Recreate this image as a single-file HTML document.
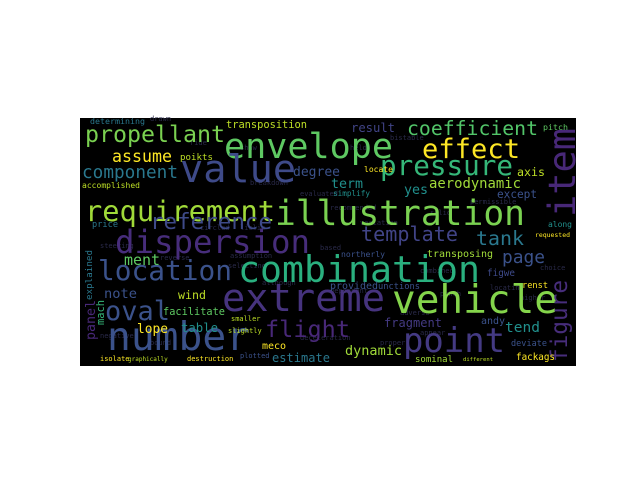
<!DOCTYPE html>
<html><head><meta charset="utf-8"><style>
html,body{margin:0;padding:0;background:#fff;width:640px;height:480px;overflow:hidden}
svg text{font-family:"DejaVu Sans Mono","Liberation Mono",monospace}
</style></head><body>
<svg width="640" height="480">
<rect x="80" y="118" width="496" height="248" fill="#000"/>
<g id="words" lengthAdjust="spacingAndGlyphs">
<g fill="#2a2a4a" font-size="7">
<text x="150" y="121">drawn</text><text x="190" y="145">ride</text><text x="240" y="150">shaw</text><text x="390" y="140">bistable</text>
<text x="350" y="150">held</text><text x="470" y="204">permissible</text><text x="300" y="196">evaluated</text><text x="250" y="185">breakdown</text>
<text x="330" y="210">recommended</text><text x="430" y="215">solid</text><text x="200" y="230">circled</text><text x="240" y="230">liclib</text>
<text x="360" y="225">variation</text><text x="320" y="250">based</text><text x="230" y="258">assumption</text><text x="228" y="268">selecting</text>
<text x="262" y="285">although</text><text x="330" y="293">dependent</text><text x="440" y="296">punch</text><text x="490" y="290">locating</text>
<text x="400" y="315">adverse</text><text x="420" y="335">appear</text><text x="380" y="345">proper</text><text x="300" y="340">deceleration</text>
<text x="540" y="270">choice</text><text x="100" y="248">steering</text><text x="100" y="338">negative</text>
<text x="160" y="260">reverse</text><text x="420" y="273">combined</text><text x="520" y="300">higher</text><text x="150" y="345">bound</text>
</g>
<text x="224" y="158" font-size="32" fill="#5ec962" textLength="169">envelope</text>
<text x="275" y="225" font-size="29" fill="#7ad151" textLength="250">illustration</text>
<text x="115" y="253" font-size="29" fill="#472d7b" textLength="195">dispersion</text>
<text x="238" y="282" font-size="29" fill="#2ab07f" textLength="242">combination</text>
<text x="222" y="311" font-size="29" fill="#46337e" textLength="163">extreme</text>
<text x="392" y="313" font-size="29" fill="#84d44b" textLength="166">vehicle</text>
<text x="107" y="350" font-size="29" fill="#3b528b" textLength="143">number</text>
<text x="403" y="352" font-size="29" fill="#443a83" textLength="102">point</text>
<text x="180" y="182" font-size="31" fill="#3e4a89" textLength="116">value</text>
<text x="85" y="221" font-size="24" fill="#a0da39" textLength="190">requirement</text>
<text x="380" y="175" font-size="23" fill="#35b779" textLength="133">pressure</text>
<text x="422" y="158" font-size="23" fill="#fde725" textLength="98">effect</text>
<text transform="translate(575,217) rotate(-90)" font-size="26" fill="#482878" textLength="89">item</text>
<text transform="translate(567,362) rotate(-90)" font-size="23" fill="#472d7b" textLength="82">figure</text>
<text x="85" y="142" font-size="20" fill="#7ad151" textLength="140">propellant</text>
<text x="407" y="135" font-size="16" fill="#52c569" textLength="131">coefficient</text>
<text x="98" y="280" font-size="21" fill="#3b528b" textLength="134">location</text>
<text x="150" y="229" font-size="20" fill="#3e4a89" textLength="122">reference</text>
<text x="361" y="241" font-size="16" fill="#414487" textLength="97">template</text>
<text x="476" y="245" font-size="20" fill="#2a788e" textLength="48">tank</text>
<text x="265" y="337" font-size="23" fill="#482878" textLength="85">flight</text>
<text x="105" y="320" font-size="20" fill="#3b528b" textLength="65">oval</text>
<text x="82" y="178" font-size="15" fill="#2a788e" textLength="96">component</text>
<text x="112" y="162" font-size="12" fill="#fde725" textLength="60">assume</text>
<text x="293" y="176" font-size="13" fill="#3b528b" textLength="47">degree</text>
<text x="180" y="160" font-size="10" fill="#bddf26" textLength="33">poikts</text>
<text x="226" y="128" font-size="9" fill="#bddf26" textLength="81">transposition</text>
<text x="90" y="124" font-size="7" fill="#2a788e" textLength="55">determining</text>
<text x="82" y="188" font-size="7" fill="#bddf26" textLength="58">accomplished</text>
<text x="92" y="227" font-size="10" fill="#2a788e" textLength="26">price</text>
<text x="351" y="132" font-size="12" fill="#414487" textLength="44">result</text>
<text x="543" y="130" font-size="9" fill="#5ec962" textLength="25">pitch</text>
<text x="331" y="188" font-size="13" fill="#21908d" textLength="32">term</text>
<text x="429" y="188" font-size="12" fill="#a0da39" textLength="92">aerodynamic</text>
<text x="517" y="176" font-size="10" fill="#bddf26" textLength="28">axis</text>
<text x="404" y="194" font-size="12" fill="#21908d" textLength="24">yes</text>
<text x="497" y="198" font-size="10" fill="#3b528b" textLength="40">except</text>
<text x="333" y="196" font-size="8" fill="#21908d" textLength="37">simplify</text>
<text x="364" y="172" font-size="8" fill="#fde725" textLength="29">locate</text>
<text x="548" y="227" font-size="8" fill="#21908d" textLength="24">along</text>
<text x="535" y="237" font-size="7" fill="#fde725" textLength="35">requested</text>
<text x="124" y="265" font-size="12" fill="#5ec962" textLength="36">ment</text>
<text x="104" y="298" font-size="13" fill="#3b528b" textLength="33">note</text>
<text x="178" y="299" font-size="13" fill="#bddf26" textLength="28">wind</text>
<text x="163" y="315" font-size="12" fill="#5ec962" textLength="62">facilitate</text>
<text x="137" y="333" font-size="13" fill="#fde725" textLength="31">lope</text>
<text x="181" y="332" font-size="12" fill="#21908d" textLength="37">table</text>
<text transform="translate(95,340) rotate(-90)" font-size="12" fill="#482878" textLength="40">panel</text>
<text transform="translate(104,325) rotate(-90)" font-size="10" fill="#35b779" textLength="25">mach</text>
<text transform="translate(92,300) rotate(-90)" font-size="8" fill="#2a788e" textLength="50">explained</text>
<text x="262" y="349" font-size="10" fill="#fde725" textLength="24">meco</text>
<text x="272" y="362" font-size="12" fill="#2a788e" textLength="58">estimate</text>
<text x="100" y="361" font-size="7" fill="#fde725">isolate</text>
<text x="128" y="361" font-size="6" fill="#bddf26">graphically</text>
<text x="187" y="361" font-size="7" fill="#fde725">destruction</text>
<text x="228" y="333" font-size="7" fill="#bddf26">slightly</text>
<text x="231" y="321" font-size="7" fill="#bddf26">smaller</text>
<text x="240" y="358" font-size="7" fill="#3b528b">plotted</text>
<text x="427" y="257" font-size="10" fill="#a0da39" textLength="66">transposing</text>
<text x="341" y="257" font-size="8" fill="#3b528b" textLength="44">northerly</text>
<text x="502" y="263" font-size="15" fill="#3b528b" textLength="43">page</text>
<text x="487" y="276" font-size="10" fill="#3e4a89" textLength="28">figwe</text>
<text x="330" y="289" font-size="10" fill="#3b528b" textLength="48">provided</text>
<text x="378" y="289" font-size="10" fill="#3b528b" textLength="42">unctions</text>
<text x="522" y="288" font-size="10" fill="#fde725" textLength="26">renst</text>
<text x="384" y="327" font-size="12" fill="#443a83" textLength="58">fragment</text>
<text x="481" y="324" font-size="10" fill="#3b528b" textLength="24">andy</text>
<text x="505" y="332" font-size="13" fill="#21908d" textLength="35">tend</text>
<text x="345" y="355" font-size="13" fill="#a0da39" textLength="57">dynamic</text>
<text x="511" y="346" font-size="9" fill="#3b528b" textLength="36">deviate</text>
<text x="415" y="362" font-size="10" fill="#a0da39" textLength="38">sominal</text>
<text x="463" y="361" font-size="7" fill="#bddf26" textLength="30">different</text>
<text x="516" y="360" font-size="10" fill="#fde725" textLength="39">fackags</text>
</g>
</svg>
<script>
document.querySelectorAll('#words text[textLength]').forEach(function(t){
  var L = parseFloat(t.getAttribute('textLength'));
  var n = t.textContent.length;
  t.setAttribute('font-size', (L / (0.602 * n)).toFixed(1));
});
</script>
</body></html>
